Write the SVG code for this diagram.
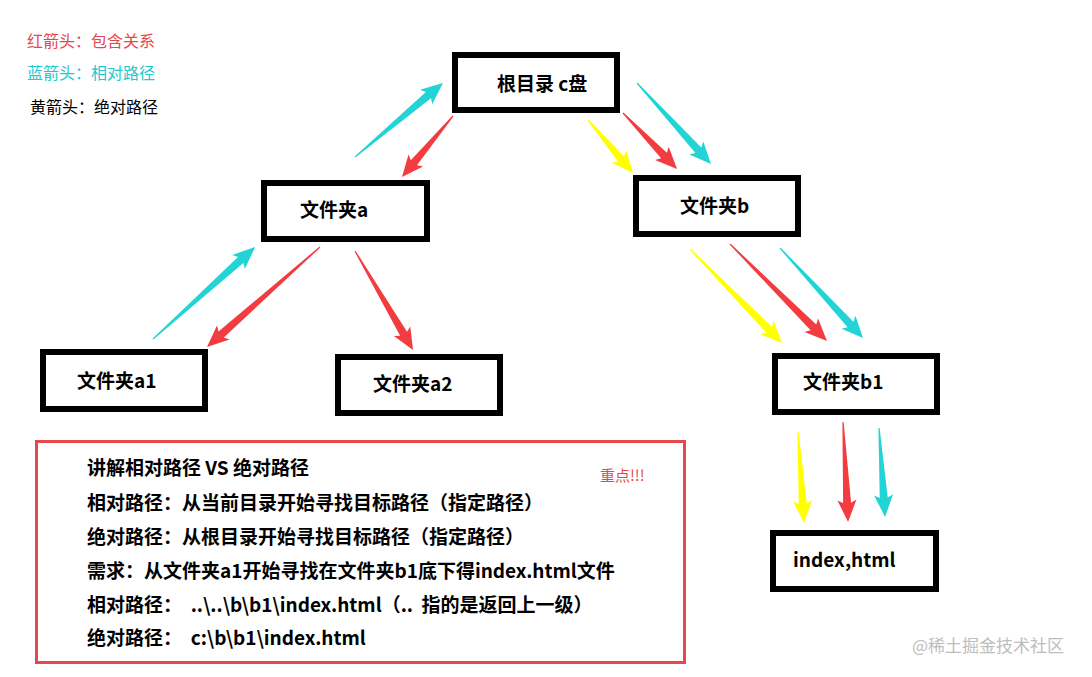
<svg xmlns="http://www.w3.org/2000/svg" width="1092" height="677" viewBox="0 0 1092 677">
<style>
.box{fill:#fff;stroke:#000;stroke-width:6}
.lbl{font-family:"Microsoft YaHei","Noto Sans CJK SC",sans-serif;font-weight:bold;font-size:19px;fill:#000}
.leg{font-family:"Microsoft YaHei","Noto Sans CJK SC",sans-serif;font-size:16px}
.note{font-family:"Microsoft YaHei","Noto Sans CJK SC",sans-serif;font-weight:bold;font-size:19px;fill:#000;white-space:pre}
.r{fill:#f33c40}
.c{fill:#22d4d6}
.y{fill:#ffff00}
</style>
<rect width="1092" height="677" fill="#fff"/>
<g id="legend">
<text class="leg" x="27" y="47" fill="#e8474c">红箭头：包含关系</text>
<text class="leg" x="27" y="79" fill="#22c8d0">蓝箭头：相对路径</text>
<text class="leg" x="30" y="113" fill="#000">黄箭头：绝对路径</text>
</g>
<g id="connectors">
<polygon class="c" transform="translate(355,157) rotate(-40.1)" points="0,-0.6 96,-4 93,-9.5 115,0 93,9.5 96,4 0,0.6"/>
<polygon class="r" transform="translate(453,116) rotate(129.9)" points="0,-0.6 61,-4 58,-9.5 79.5,0 58,9.5 61,4 0,0.6"/>
<polygon class="y" transform="translate(588,120) rotate(49.7)" points="0,-0.6 51,-4 48,-9.5 69.5,0 48,9.5 51,4 0,0.6"/>
<polygon class="r" transform="translate(623,113) rotate(46)" points="0,-0.6 59,-4 56,-9.5 77.8,0 56,9.5 59,4 0,0.6"/>
<polygon class="c" transform="translate(637,83) rotate(47.6)" points="0,-0.6 91,-4 88,-9.5 109.7,0 88,9.5 91,4 0,0.6"/>
<polygon class="c" transform="translate(153,339) rotate(-42)" points="0,-0.6 118,-4 115,-9.5 137.4,0 115,9.5 118,4 0,0.6"/>
<polygon class="r" transform="translate(320,247) rotate(138.5)" points="0,-0.6 132,-4 129,-9.5 150.9,0 129,9.5 132,4 0,0.6"/>
<polygon class="r" transform="translate(355,251) rotate(59.6)" points="0,-0.6 96,-4 93,-9.5 114.7,0 93,9.5 96,4 0,0.6"/>
<polygon class="y" transform="translate(690,249) rotate(45.6)" points="0,-0.6 113,-4 110,-9.5 131.5,0 110,9.5 113,4 0,0.6"/>
<polygon class="r" transform="translate(730,244) rotate(45)" points="0,-0.6 118,-4 115,-9.5 137.2,0 115,9.5 118,4 0,0.6"/>
<polygon class="c" transform="translate(780,248) rotate(47.3)" points="0,-0.6 104,-4 101,-9.5 122.4,0 101,9.5 104,4 0,0.6"/>
<polygon class="y" transform="translate(798,432) rotate(86.2)" points="0,-0.6 72,-4 69,-9.5 91.2,0 69,9.5 72,4 0,0.6"/>
<polygon class="r" transform="translate(843,422) rotate(87.1)" points="0,-0.6 81,-4 78,-9.5 100.1,0 78,9.5 81,4 0,0.6"/>
<polygon class="c" transform="translate(879,428) rotate(86.1)" points="0,-0.6 70,-4 67,-9.5 89.2,0 67,9.5 70,4 0,0.6"/>
</g>
<g id="root"><rect class="box" x="455" y="55" width="162" height="55"/><text class="lbl" x="497" y="91">根目录 c盘</text></g>
<g id="folderA"><rect class="box" x="264" y="183" width="163" height="56"/><text class="lbl" x="300" y="217">文件夹a</text></g>
<g id="folderB"><rect class="box" x="636" y="178" width="162" height="56"/><text class="lbl" x="680" y="213">文件夹b</text></g>
<g id="folderA1"><rect class="box" x="43" y="352" width="162" height="57"/><text class="lbl" x="77" y="388">文件夹a1</text></g>
<g id="folderA2"><rect class="box" x="338" y="357" width="162" height="56"/><text class="lbl" x="373" y="391">文件夹a2</text></g>
<g id="folderB1"><rect class="box" x="775" y="356" width="162" height="56"/><text class="lbl" x="803" y="389">文件夹b1</text></g>
<g id="index"><rect class="box" x="773" y="533" width="163" height="56"/><text class="lbl" x="793" y="567">index,html</text></g>
<g id="notes">
<rect x="36.5" y="441.5" width="648" height="221" fill="none" stroke="#e8474c" stroke-width="3"/>
<text class="note" x="87" y="475">讲解相对路径 VS 绝对路径</text>
<text class="note" x="87" y="510">相对路径：从当前目录开始寻找目标路径（指定路径）</text>
<text class="note" x="87" y="544">绝对路径：从根目录开始寻找目标路径（指定路径）</text>
<text class="note" x="87" y="578">需求：从文件夹a1开始寻找在文件夹b1底下得index.html文件</text>
<text class="note" x="87" y="612">相对路径：  ..\..\b\b1\index.html（..  指的是返回上一级）</text>
<text class="note" x="87" y="645">绝对路径：  c:\b\b1\index.html</text>
<text x="600" y="481" font-family="'Microsoft YaHei','Noto Sans CJK SC',sans-serif" font-size="15" fill="#e8474c">重点!!!</text>
</g>
<text x="912" y="652" font-family="'Microsoft YaHei','Noto Sans CJK SC',sans-serif" font-size="17" fill="#bdbdbd">@稀土掘金技术社区</text>
</svg>
